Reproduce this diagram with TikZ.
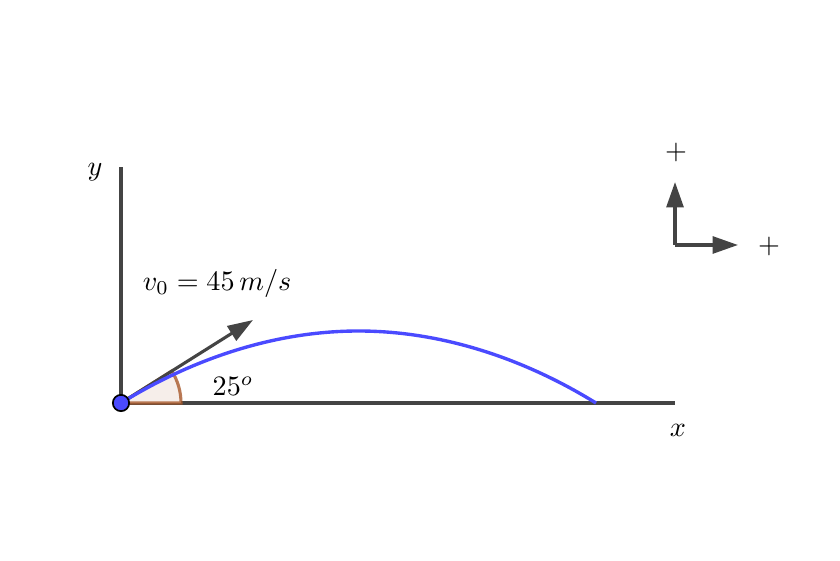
\documentclass[tikz,border=0pt]{standalone}
\usepackage{tikz}
\usetikzlibrary{arrows.meta}
\definecolor{axisgray}{HTML}{444444}
\definecolor{pathblue}{HTML}{4A4AFF}
\definecolor{anglebrown}{HTML}{A8582A}

\begin{document}
\begin{tikzpicture}[x=0.0125cm,y=-0.0125cm,font=\fontsize{10.3}{12.5}\selectfont]
	\tikzstyle{axis_style} = [draw=axisgray,line width=1.1pt]
	\tikzstyle{arrow_style} = [draw=axisgray,fill=axisgray,line width=1.1pt,-{Stealth[length=9pt,width=6pt,inset=0pt]}]
	\tikzstyle{angle_style} = [draw=anglebrown,draw opacity=0.8,fill=anglebrown!10,line width=1.1pt]
	\tikzstyle{path_style} = [draw=pathblue,line width=1.2pt]
	\tikzstyle{point_style} = [circle,draw=black,fill=pathblue,line width=0.6pt,inner sep=0pt,minimum size=5.8pt]
	\useasboundingbox (0,0) rectangle (840,561);
	\coordinate (o) at (121,403);
	\coordinate (ytop) at (121,167);
	\coordinate (xend) at (675,403);
	\coordinate (apex) at (358.5,331);
	\coordinate (land) at (596,403);
	\coordinate (vtip) at (253,320);
	\coordinate (c) at (675,245);
	\coordinate (cup) at (675,182);
	\coordinate (cright) at (738,245);
	\draw[axis_style] (o) -- (ytop);
	\draw[axis_style] (o) -- (xend);
	\draw[angle_style] (o) -- (181,403) arc (0:-32.2:60) -- cycle;
	\draw[arrow_style] (o) -- (vtip);
	\draw[path_style] (o) parabola[bend at end] (apex) parabola (land);
	\draw[arrow_style] (c) -- (cup);
	\draw[arrow_style] (c) -- (cright);
	\node[point_style] (p) at (o) {};
	\node (ylab) at (95,172) {$y$};
	\node (xlab) at (678,430) {$x$};
	\node (vlab) at (217,283) {$v_0 = 45\,m/s$};
	\node (alab) at (233,386) {$25^o$};
	\node (plusy) at (676,152) {$+$};
	\node (plusx) at (769,246) {$+$};
\end{tikzpicture}
\end{document}
